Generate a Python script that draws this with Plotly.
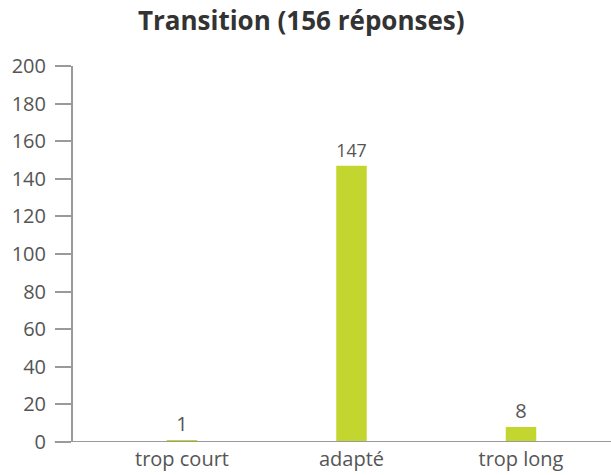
import plotly.graph_objects as go

categories = ["trop court", "adapté", "trop long"]
counts = [1, 147, 8]
y_ticks = list(range(0, 201, 20))

bar_color = "#c3d62f"
axis_color = "#9a9a9a"
text_color = "#555555"

fig = go.Figure()
fig.add_trace(go.Bar(
    x=[0, 1, 2],
    y=counts,
    width=0.18,
    marker=dict(color=bar_color, line=dict(width=0)),
    text=[str(c) for c in counts],
    textposition="outside",
    textfont=dict(size=20, color=text_color),
    cliponaxis=False,
))

# x axis line runs a bit left of the y axis, like the original
fig.add_shape(type="line", xref="paper", yref="y",
              x0=-0.034, x1=1, y0=0, y1=0,
              line=dict(color=axis_color, width=2), layer="above")

fig.update_layout(
    width=611, height=475,
    margin=dict(l=73, r=0, t=66, b=33),
    paper_bgcolor="white", plot_bgcolor="white",
    font=dict(family="Open Sans, Lato, sans-serif", size=20, color=text_color),
    showlegend=False,
    title=dict(text="<b>Transition (156 réponses)</b>",
               xref="container", x=0.493, xanchor="center",
               yref="container", y=0.957, yanchor="middle",
               font=dict(size=26, color="#333333")),
    xaxis=dict(range=[-0.643, 2.531], tickvals=[0, 1, 2], ticktext=categories,
               showgrid=False, zeroline=False, showline=False, ticks="",
               automargin=False, ticklabelstandoff=3,
               tickfont=dict(size=20, color=text_color)),
    yaxis=dict(range=[0, 200], tickvals=y_ticks, showgrid=False, zeroline=False,
               showline=True, linecolor=axis_color, linewidth=2,
               ticks="outside", ticklen=16, tickwidth=2, tickcolor=axis_color,
               ticklabelstandoff=5, automargin=False,
               tickfont=dict(size=20, color=text_color)),
)

# drop the default page margin so the figure sits at the window's corner
fig.write_html("out.html", config={"displayModeBar": False},
               post_script="document.body.style.margin='0';")
